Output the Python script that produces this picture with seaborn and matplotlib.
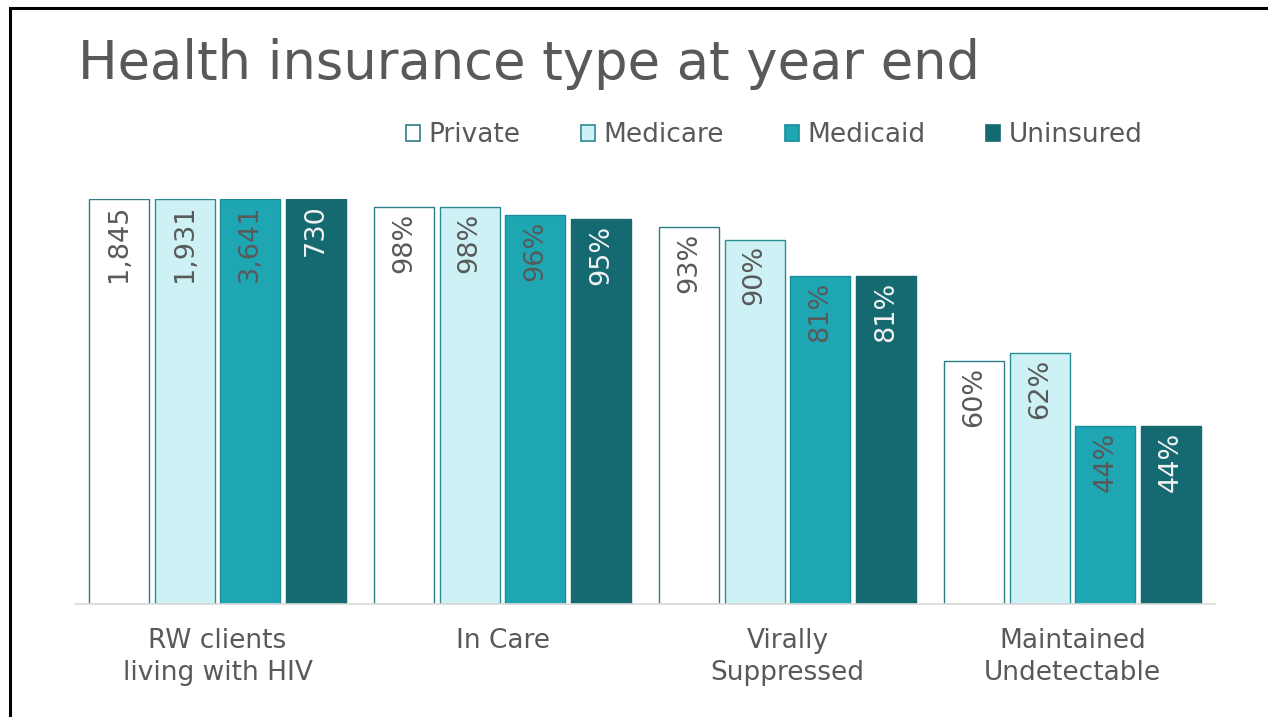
import matplotlib
matplotlib.use("Agg")
import matplotlib.pyplot as plt
from matplotlib.patches import Rectangle, Patch
import seaborn as sns
import pandas as pd

# Care-continuum stages and insurance types
stages = ["RW clients\nliving with HIV", "In Care", "Virally\nSuppressed", "Maintained\nUndetectable"]
insurance = ["Private", "Medicare", "Medicaid", "Uninsured"]

# Clients living with HIV by insurance type (first stage, shown as 100%)
clients = [1845, 1931, 3641, 730]

# Percent of clients reaching each later stage
private_pct = [100, 98, 93, 60]
medicare_pct = [100, 98, 90, 62]
medicaid_pct = [100, 96, 81, 44]
uninsured_pct = [100, 95, 81, 44]

fills = ["#ffffff", "#cdf1f4", "#1fa6b3", "#156a72"]
edges = ["#2b7d87", "#2b8a94", "#188e9a", "#156a72"]
label_colors = ["#595959", "#595959", "#595959", "#f2f2f2"]
grey = "#595959"

rows = []
for ins, vals in zip(insurance, [private_pct, medicare_pct, medicaid_pct, uninsured_pct]):
    for st, v in zip(stages, vals):
        rows.append({"stage": st, "insurance": ins, "pct": v})
df = pd.DataFrame(rows)

sns.set_theme(style="white")
plt.rcParams["font.family"] = ["DejaVu Sans"]

fig = plt.figure(figsize=(12.68, 7.17), dpi=100)
ax = fig.add_axes([75 / 1268, 1 - 604 / 717, (1215 - 75) / 1268, (604 - 199) / 717])

sns.barplot(data=df, x="stage", y="pct", hue="insurance", order=stages,
            hue_order=insurance, palette=fills, saturation=1, width=0.92, gap=0.09,
            legend=False, ax=ax)

for i, cont in enumerate(ax.containers):
    for j, bar in enumerate(cont):
        bar.set_edgecolor(edges[i])
        bar.set_linewidth(1.0)
        if j == 0:
            txt = f"{clients[i]:,}"
        else:
            txt = f"{bar.get_height():.0f}%"
        ax.annotate(txt, (bar.get_x() + bar.get_width() / 2, bar.get_height()),
                    xytext=(0, -4), textcoords="offset points",
                    rotation=90, ha="center", va="top",
                    fontsize=19.5, color=label_colors[i])

ax.set_xlim(-0.5, 3.5)
ax.set_ylim(0, 100)
ax.set_xlabel("")
ax.set_ylabel("")
ax.set_yticks([])
for s in ["top", "right", "left"]:
    ax.spines[s].set_visible(False)
ax.spines["bottom"].set_color("#d9d9d9")
ax.spines["bottom"].set_linewidth(1.2)
ax.tick_params(axis="x", length=0, pad=17, labelsize=19, labelcolor=grey)
for lbl in ax.get_xticklabels():
    lbl.set_linespacing(1.3)
    lbl.set_va("top")

handles = [Patch(facecolor=f, edgecolor=e, linewidth=1.2) for f, e in zip(fills, edges)]
fig.legend(handles, insurance, loc="center", bbox_to_anchor=(774 / 1268, 1 - 135 / 717),
           ncol=4, frameon=False, fontsize=19, labelcolor=grey,
           handlelength=0.55, handleheight=0.55, handletextpad=0.3,
           columnspacing=2.3)

fig.text(78 / 1268, 1 - 79 / 717, "Health insurance type at year end",
         fontsize=38, color=grey, ha="left", va="baseline")

# slide frame
fig.patches.append(Rectangle((10 / 1268, -0.1), 1.2, (717 - 8) / 717 + 0.1,
                             transform=fig.transFigure, fill=False,
                             edgecolor="black", linewidth=2.2))

fig.savefig("out.png", dpi=100, facecolor="white")
